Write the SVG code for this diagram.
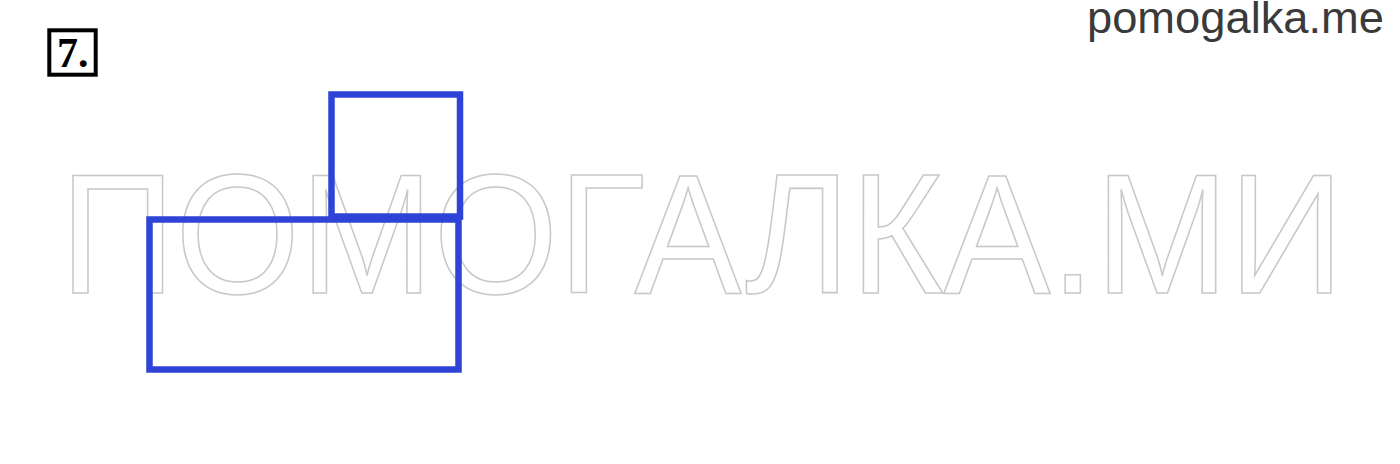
<svg xmlns="http://www.w3.org/2000/svg" width="1400" height="464" viewBox="0 0 1400 464">
<style>
.wm{font-family:"Liberation Sans",Arial,sans-serif;font-size:171px;fill:none;stroke:#c8c8c8;stroke-width:1.6}
.blue{fill:none;stroke:#2f43d6;stroke-width:6.5}
.site{font-family:"Liberation Sans",Arial,sans-serif;font-size:44px;fill:#3a3a3a}
.num{font-family:"Liberation Serif","Times New Roman",serif;font-weight:bold;font-size:42px;fill:#000}
</style>
<rect width="1400" height="464" fill="#fff"/>
<g id="watermark">
<text class="wm" x="60" y="293" textLength="1284" lengthAdjust="spacingAndGlyphs">ПОМОГАЛКА.МИ</text>
</g>
<g id="label">
<rect x="49.3" y="30.3" width="46.4" height="44.4" fill="none" stroke="#000" stroke-width="4"/>
<text class="num" x="57" y="67">7.</text>
</g>
<g id="site">
<text class="site" x="1087" y="33" textLength="297" lengthAdjust="spacingAndGlyphs">pomogalka.me</text>
</g>
<g id="small-rect">
<rect class="blue" x="331.5" y="94.5" width="128.5" height="122"/>
</g>
<g id="big-rect">
<rect class="blue" x="149.5" y="219.5" width="309" height="150"/>
</g>
<g id="connectors"/>
</svg>
